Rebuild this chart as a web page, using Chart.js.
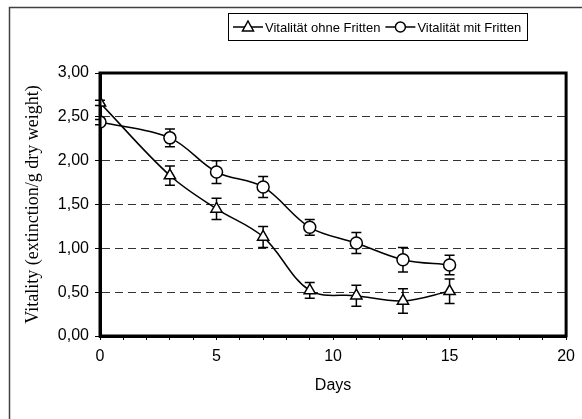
<!DOCTYPE html>
<html>
<head>
<meta charset="utf-8">
<script src="https://cdn.jsdelivr.net/npm/chart.js@4"></script>
<style>
  html, body { margin: 0; padding: 0; background: #fff; }
  #wrap { width: 582px; height: 419px; }
</style>
</head>
<body>
<div id="wrap"><canvas id="vitalityChart" width="582" height="419"></canvas></div>
<script>
// Data
const days = [0, 3, 5, 7, 9, 11, 13, 15];
const ohneFritten = [2.66, 1.83, 1.45, 1.13, 0.52, 0.46, 0.40, 0.51];
const ohneErr = [0.03, 0.11, 0.12, 0.12, 0.09, 0.12, 0.14, 0.14];
const mitFritten = [2.44, 2.26, 1.87, 1.70, 1.24, 1.06, 0.87, 0.81];
const mitErr = [0.03, 0.10, 0.13, 0.12, 0.09, 0.12, 0.14, 0.11];
const seriesNames = ['Vitalität ohne Fritten', 'Vitalität mit Fritten'];

const toPoints = (vals) => days.map((d, i) => ({ x: d, y: vals[i] }));

// Error bars drawn behind the lines, using the chart scales
const errorBars = {
  id: 'errorBars',
  beforeDatasetsDraw(chart) {
    const { ctx, scales: { x, y } } = chart;
    const errs = [ohneErr, mitErr];
    ctx.save();
    ctx.strokeStyle = '#000';
    ctx.lineWidth = 1.5;
    chart.data.datasets.forEach((ds, k) => {
      ds.data.forEach((p, i) => {
        const px = x.getPixelForValue(p.x);
        const top = y.getPixelForValue(p.y + errs[k][i]);
        const bot = y.getPixelForValue(p.y - errs[k][i]);
        ctx.beginPath();
        ctx.moveTo(px, top); ctx.lineTo(px, bot);
        ctx.moveTo(px - 5, top); ctx.lineTo(px + 5, top);
        ctx.moveTo(px - 5, bot); ctx.lineTo(px + 5, bot);
        ctx.stroke();
      });
    });
    ctx.restore();
  }
};

// Frame of the plot area, outer frame and legend box
const frames = {
  id: 'frames',
  afterDraw(chart) {
    const { ctx, chartArea: a } = chart;
    ctx.save();
    ctx.strokeStyle = '#000';
    ctx.lineWidth = 3;
    ctx.strokeRect(a.left, a.top, a.right - a.left, a.bottom - a.top);

    // outer chart frame (only top and left are inside the picture)
    ctx.strokeStyle = '#404040';
    ctx.lineWidth = 1.5;
    ctx.beginPath();
    ctx.moveTo(9.5, 419); ctx.lineTo(9.5, 7.5); ctx.lineTo(582, 7.5);
    ctx.stroke();

    // legend
    ctx.strokeStyle = '#000';
    ctx.lineWidth = 1;
    ctx.strokeRect(228.5, 13.5, 299, 27);
    ctx.font = '13px "Liberation Sans", Arial, sans-serif';
    ctx.textBaseline = 'middle';
    ctx.fillStyle = '#000';
    let lx = 233;
    ['triangle', 'circle'].forEach((style, i) => {
      const cy = 27;
      ctx.lineWidth = 1.5;
      ctx.beginPath();
      ctx.moveTo(lx, cy); ctx.lineTo(lx + 30, cy);
      ctx.stroke();
      ctx.fillStyle = '#fff';
      ctx.beginPath();
      const cx = lx + 15;
      if (style === 'circle') {
        ctx.arc(cx, cy, 5, 0, Math.PI * 2);
      } else {
        ctx.moveTo(cx, cy - 6); ctx.lineTo(cx + 5.5, cy + 4); ctx.lineTo(cx - 5.5, cy + 4); ctx.closePath();
      }
      ctx.fill(); ctx.stroke();
      ctx.fillStyle = '#000';
      ctx.fillText(seriesNames[i], lx + 32, cy + 1);
      lx += 32 + ctx.measureText(seriesNames[i]).width + 5;
    });
    ctx.restore();
  }
};

const ctx = document.getElementById('vitalityChart').getContext('2d');
new Chart(ctx, {
  type: 'line',
  data: {
    datasets: [{
      label: seriesNames[0],
      data: toPoints(ohneFritten),
      borderColor: '#000',
      borderWidth: 1.5,
      pointStyle: 'triangle',
      pointRadius: 6.5,
      pointBackgroundColor: '#fff',
      pointBorderColor: '#000',
      pointBorderWidth: 1.5,
      tension: 0.35,
      fill: false
    }, {
      label: seriesNames[1],
      data: toPoints(mitFritten),
      borderColor: '#000',
      borderWidth: 1.5,
      pointStyle: 'circle',
      pointRadius: 6,
      pointBackgroundColor: '#fff',
      pointBorderColor: '#000',
      pointBorderWidth: 1.5,
      tension: 0.35,
      fill: false
    }]
  },
  options: {
    responsive: false,
    animation: false,
    layout: { padding: { left: 10, top: 73, right: 15, bottom: 20 } },
    scales: {
      x: {
        type: 'linear',
        min: 0,
        max: 20,
        afterFit: (s) => { s.height = 63; },
        border: { color: '#000', width: 3 },
        grid: { drawOnChartArea: false, drawTicks: true, tickLength: 4, tickColor: '#000', tickWidth: 1 },
        ticks: {
          stepSize: 1,
          autoSkip: false,
          maxRotation: 0,
          color: '#000',
          padding: 7,
          font: { family: '"Liberation Sans", Arial, sans-serif', size: 16 },
          callback: (v) => (v % 5 === 0 ? String(v) : '')
        },
        title: {
          display: true,
          text: 'Days',
          color: '#000',
          padding: { top: 4 },
          font: { family: '"Liberation Sans", Arial, sans-serif', size: 16 }
        }
      },
      y: {
        min: 0,
        max: 3,
        afterFit: (s) => { s.width = 90; },
        border: { color: '#000', width: 3, dash: [8, 5] },
        grid: { color: '#333', lineWidth: 1, tickLength: 5, tickColor: '#000', tickBorderDash: [] },
        ticks: {
          stepSize: 0.5,
          color: '#000',
          padding: 6,
          font: { family: '"Liberation Sans", Arial, sans-serif', size: 16 },
          callback: (v) => v.toFixed(2).replace('.', ',')
        },
        title: {
          display: true,
          text: 'Vitality (extinction/g dry weight)',
          color: '#000',
          padding: { top: 12, bottom: 0 },
          font: { family: '"Liberation Serif", "Times New Roman", serif', size: 18 }
        }
      }
    },
    plugins: {
      legend: { display: false },
      tooltip: { enabled: false }
    }
  },
  plugins: [errorBars, frames]
});
</script>
</body>
</html>
